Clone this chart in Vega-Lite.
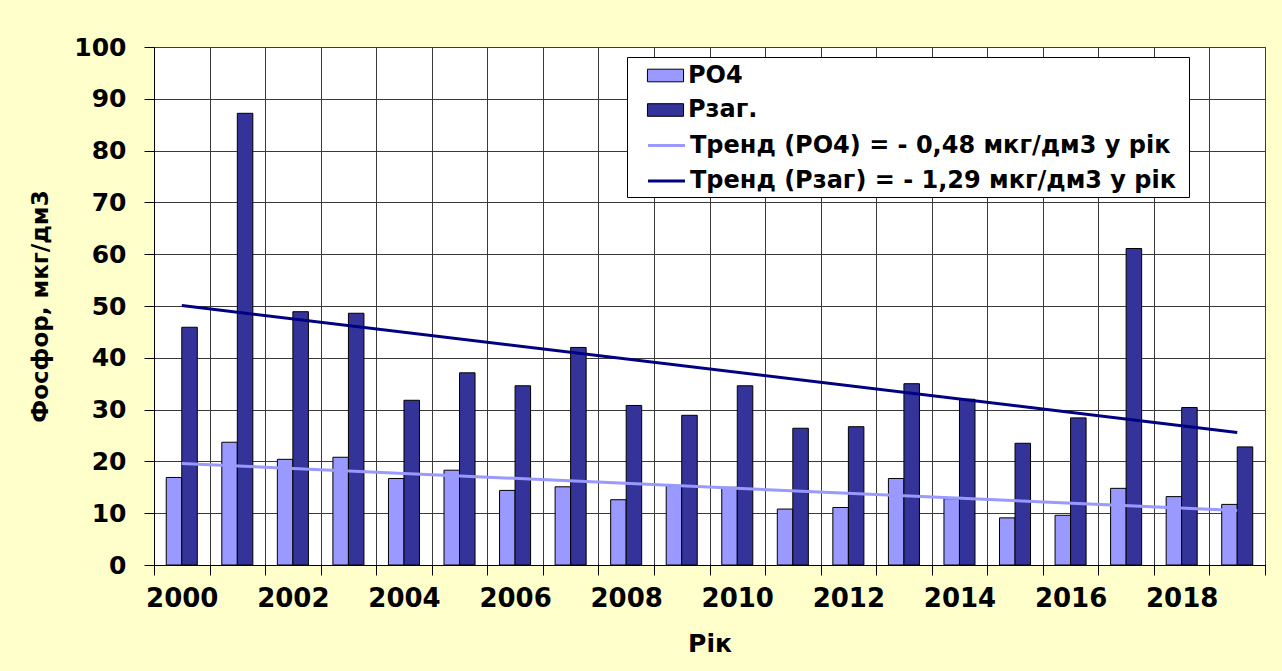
{
  "$schema": "https://vega.github.io/schema/vega-lite/v6.json",
  "width": 1111,
  "height": 518,
  "autosize": {"type": "none"},
  "padding": {"left": 154, "top": 47, "right": 17, "bottom": 106},
  "background": "#FFFFCC",
  "config": {
    "view": {"fill": "white", "stroke": "black", "strokeWidth": 1},
    "axis": {
      "labelFont": "DejaVu Sans", "labelFontWeight": "bold", "labelColor": "black",
      "titleFont": "DejaVu Sans", "titleFontWeight": "bold", "titleColor": "black",
      "domainColor": "black", "tickColor": "black", "gridColor": "#3a3a3a", "gridOpacity": 1,
      "tickSize": 10
    }
  },
  "datasets": {
    "bars": [
      {"year": 2000, "series": "PO4", "value": 16.9}, {"year": 2000, "series": "Pзаг.", "value": 45.9},
      {"year": 2001, "series": "PO4", "value": 23.7}, {"year": 2001, "series": "Pзаг.", "value": 87.2},
      {"year": 2002, "series": "PO4", "value": 20.4}, {"year": 2002, "series": "Pзаг.", "value": 48.9},
      {"year": 2003, "series": "PO4", "value": 20.8}, {"year": 2003, "series": "Pзаг.", "value": 48.6},
      {"year": 2004, "series": "PO4", "value": 16.7}, {"year": 2004, "series": "Pзаг.", "value": 31.8},
      {"year": 2005, "series": "PO4", "value": 18.3}, {"year": 2005, "series": "Pзаг.", "value": 37.1},
      {"year": 2006, "series": "PO4", "value": 14.4}, {"year": 2006, "series": "Pзаг.", "value": 34.6},
      {"year": 2007, "series": "PO4", "value": 15.1}, {"year": 2007, "series": "Pзаг.", "value": 42.0},
      {"year": 2008, "series": "PO4", "value": 12.6}, {"year": 2008, "series": "Pзаг.", "value": 30.8},
      {"year": 2009, "series": "PO4", "value": 15.3}, {"year": 2009, "series": "Pзаг.", "value": 28.9},
      {"year": 2010, "series": "PO4", "value": 15.0}, {"year": 2010, "series": "Pзаг.", "value": 34.6},
      {"year": 2011, "series": "PO4", "value": 10.8}, {"year": 2011, "series": "Pзаг.", "value": 26.4},
      {"year": 2012, "series": "PO4", "value": 11.1}, {"year": 2012, "series": "Pзаг.", "value": 26.7},
      {"year": 2013, "series": "PO4", "value": 16.7}, {"year": 2013, "series": "Pзаг.", "value": 35.0},
      {"year": 2014, "series": "PO4", "value": 12.8}, {"year": 2014, "series": "Pзаг.", "value": 32.0},
      {"year": 2015, "series": "PO4", "value": 9.1}, {"year": 2015, "series": "Pзаг.", "value": 23.5},
      {"year": 2016, "series": "PO4", "value": 9.6}, {"year": 2016, "series": "Pзаг.", "value": 28.4},
      {"year": 2017, "series": "PO4", "value": 14.8}, {"year": 2017, "series": "Pзаг.", "value": 61.1},
      {"year": 2018, "series": "PO4", "value": 13.2}, {"year": 2018, "series": "Pзаг.", "value": 30.4},
      {"year": 2019, "series": "PO4", "value": 11.7}, {"year": 2019, "series": "Pзаг.", "value": 22.8}
    ],
    "trends": [
      {"year": 2000, "series": "Тренд (PO4) = - 0,48 мкг/дм3  у рік", "value": 19.6},
      {"year": 2019, "series": "Тренд (PO4) = - 0,48 мкг/дм3  у рік", "value": 10.5},
      {"year": 2000, "series": "Тренд (Pзаг) = - 1,29 мкг/дм3  у рік", "value": 50.1},
      {"year": 2019, "series": "Тренд (Pзаг) = - 1,29 мкг/дм3  у рік", "value": 25.6}
    ]
  },
  "layer": [
    {
      "data": {"name": "bars"},
      "mark": {"type": "bar", "stroke": "black", "strokeWidth": 1},
      "encoding": {
        "x": {
          "field": "year", "type": "ordinal",
          "scale": {"paddingInner": 0, "paddingOuter": 0},
          "axis": {
            "title": "Рік", "tickBand": "extent", "grid": true, "labelAngle": 0,
            "labelExpr": "datum.value % 2 == 0 ? datum.label : ''",
            "labelFontSize": 26, "labelPadding": 10, "labelOverlap": false,
            "titleFontSize": 25, "titleX": 555.5, "titleY": 78,
            "titleBaseline": "middle", "titleAlign": "center"
          }
        },
        "xOffset": {
          "field": "series", "type": "nominal",
          "scale": {"domain": ["PO4", "Pзаг."], "paddingInner": 0, "paddingOuter": 0.79}
        },
        "y": {
          "field": "value", "type": "quantitative",
          "scale": {"domain": [0, 100], "nice": false},
          "axis": {
            "title": "Фосфор, мкг/дм3", "values": [0, 10, 20, 30, 40, 50, 60, 70, 80, 90, 100],
            "grid": true, "labelFontSize": 25, "labelPadding": 18,
            "titleFontSize": 23, "titleX": -114, "titleY": 259, "titleAngle": -90,
            "titleBaseline": "middle", "titleAlign": "center"
          }
        },
        "fill": {
          "field": "series", "type": "nominal",
          "scale": {"domain": ["PO4", "Pзаг."], "range": ["#9999FF", "#333399"]},
          "legend": {
            "orient": "none", "legendX": 473, "legendY": 10, "title": null, "direction": "vertical",
            "zindex": 2, "padding": 4,
            "labelFont": "DejaVu Sans", "labelFontWeight": "bold", "labelFontSize": 24, "labelColor": "black",
            "labelLimit": 800, "labelOffset": 8, "symbolSize": 784, "symbolOffset": 20, "rowPadding": 7.5,
            "symbolType": "M-1.29,-0.45H1.29V0.45H-1.29Z",
            "symbolStrokeColor": "black", "symbolStrokeWidth": 1, "symbolOpacity": 1
          }
        }
      }
    },
    {
      "data": {"name": "trends"},
      "mark": {"type": "line", "strokeWidth": 3},
      "encoding": {
        "x": {"field": "year", "type": "ordinal"},
        "y": {"field": "value", "type": "quantitative"},
        "stroke": {
          "field": "series", "type": "nominal",
          "scale": {
            "domain": ["Тренд (PO4) = - 0,48 мкг/дм3  у рік", "Тренд (Pзаг) = - 1,29 мкг/дм3  у рік"],
            "range": ["#9999FF", "#000080"]
          },
          "legend": {
            "orient": "none", "legendX": 473, "legendY": 10, "title": " ", "titleFontSize": 1, "titlePadding": 68,
            "direction": "vertical", "zindex": 1,
            "fillColor": "white", "strokeColor": "black", "padding": 4,
            "labelFont": "DejaVu Sans", "labelFontWeight": "bold", "labelFontSize": 24, "labelColor": "black",
            "labelLimit": 800, "labelOffset": 8, "symbolSize": 784, "symbolOffset": 20, "rowPadding": 7.5,
            "symbolType": "M-1.32,0H1.32", "symbolStrokeWidth": 3, "symbolOpacity": 1
          }
        }
      }
    }
  ]
}
